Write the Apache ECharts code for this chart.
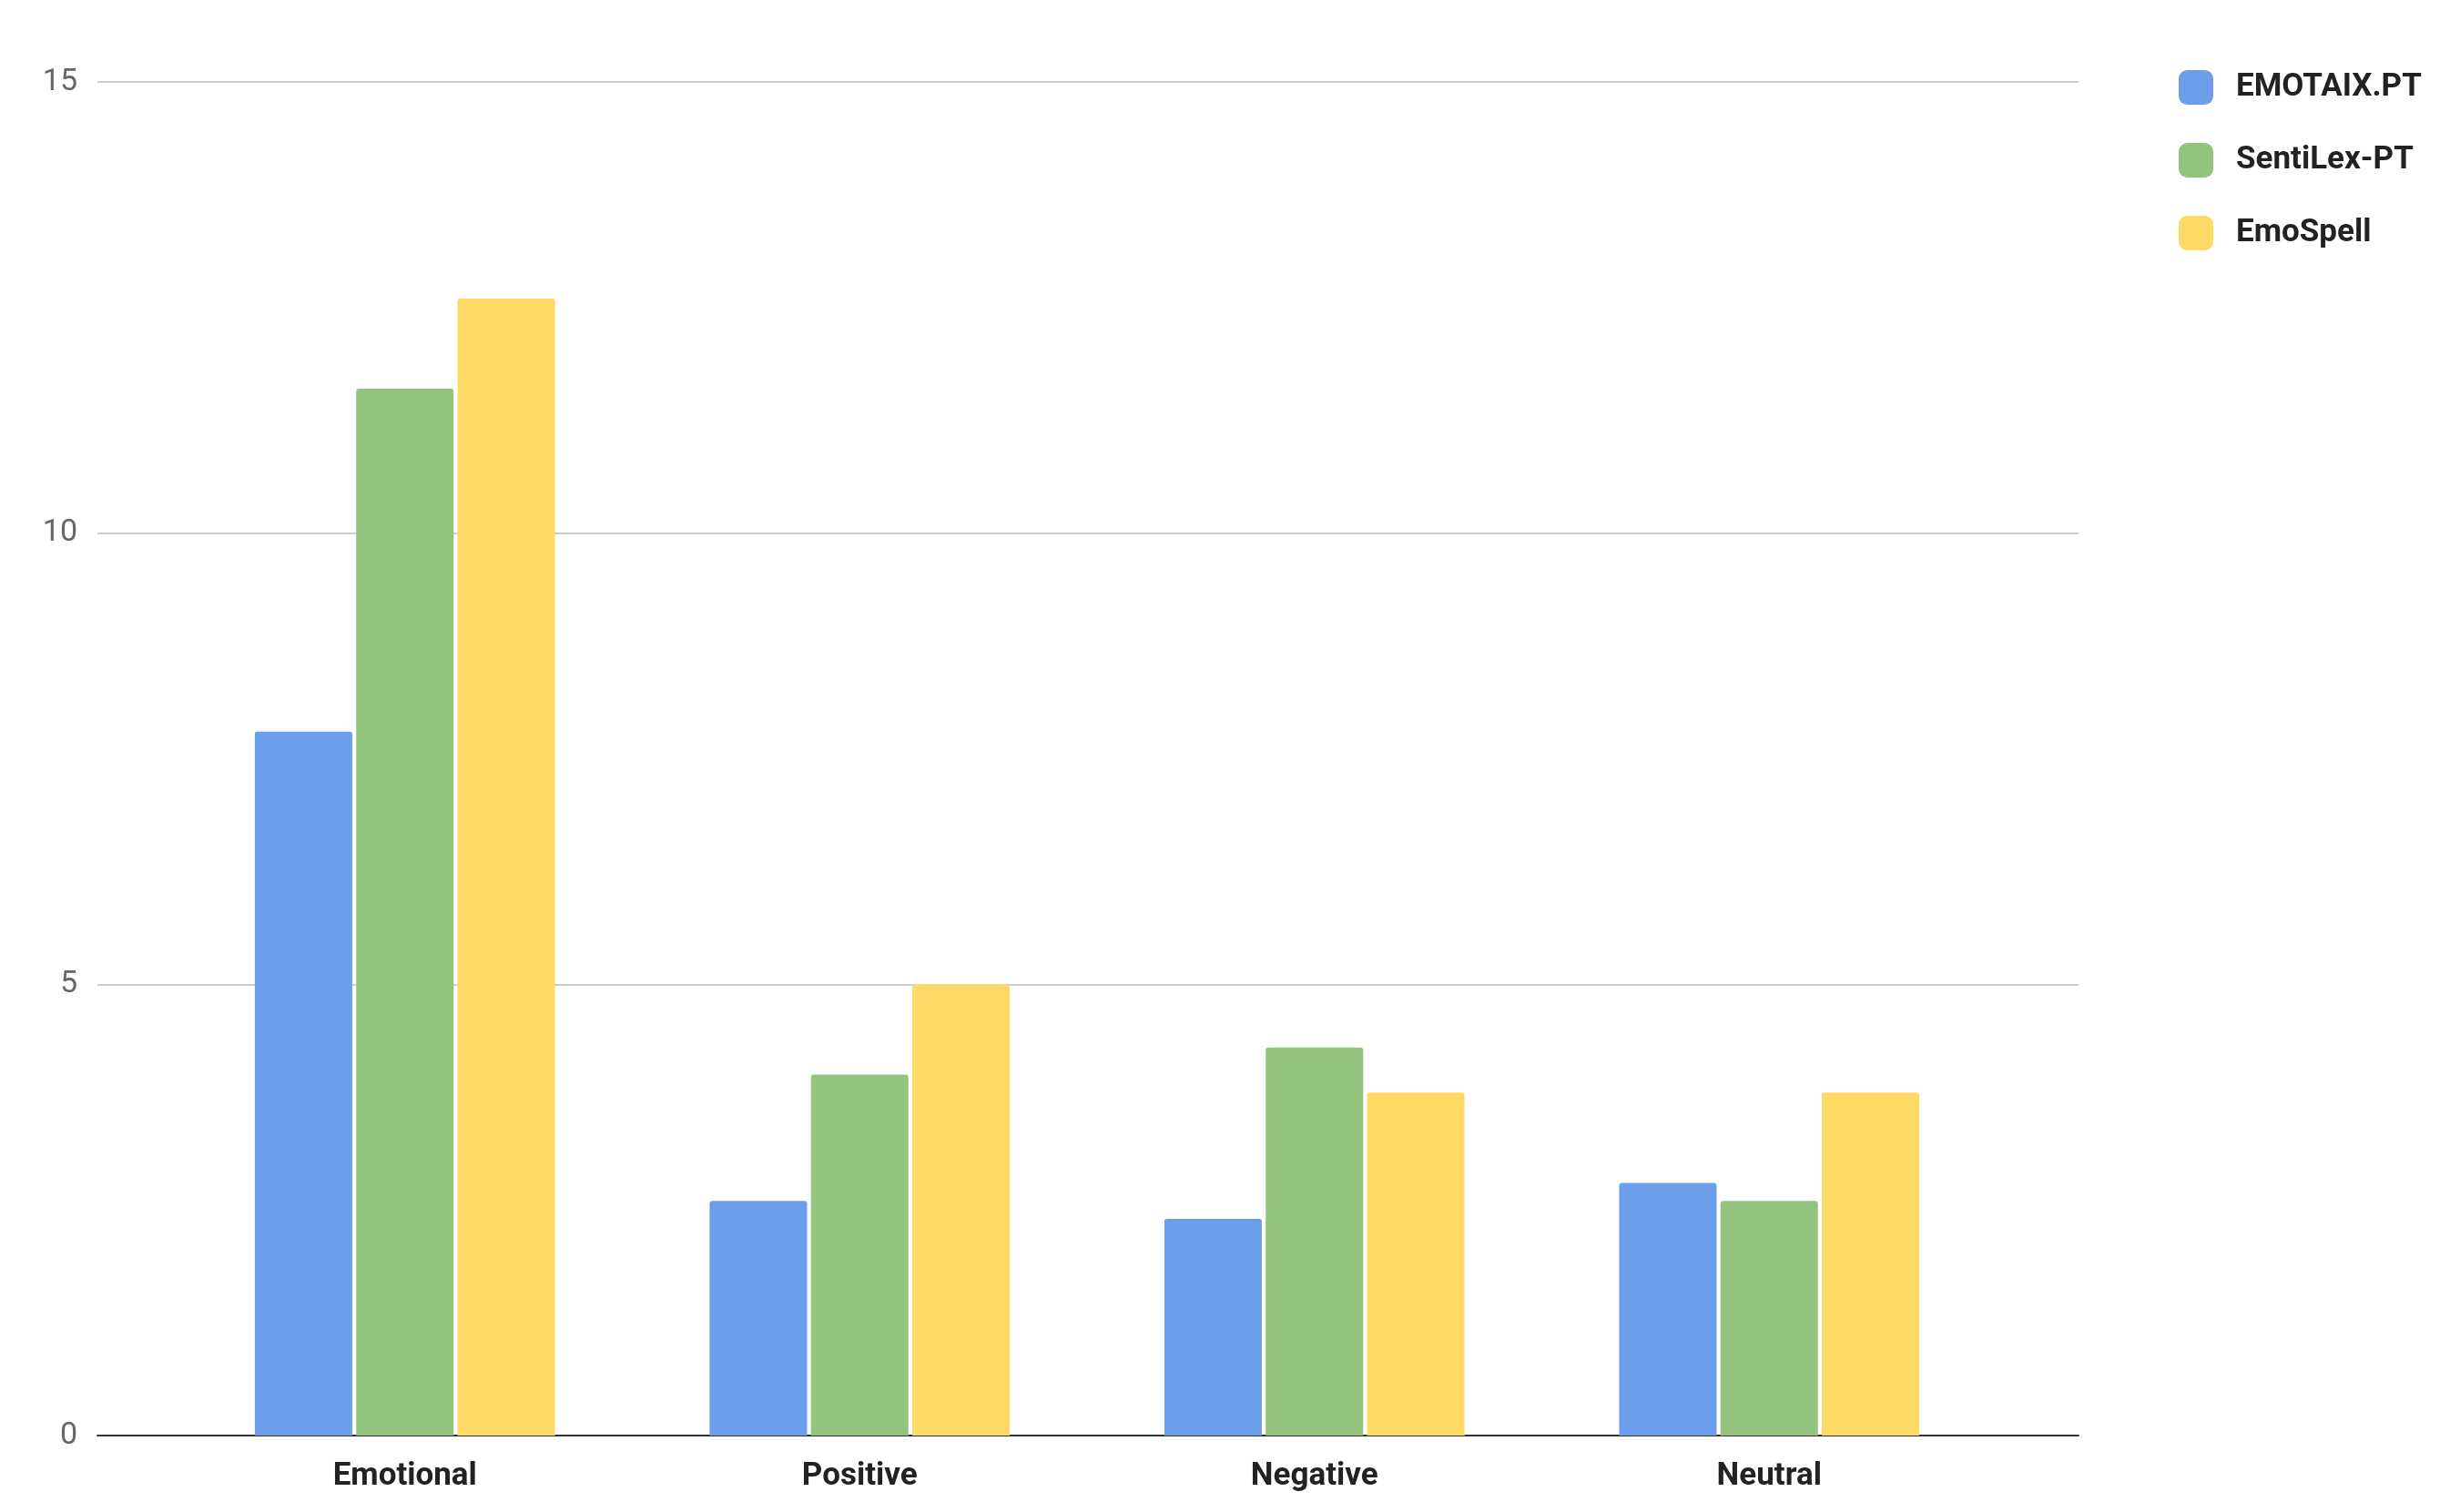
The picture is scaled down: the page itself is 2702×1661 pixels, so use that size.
<!DOCTYPE html>
<html><head><meta charset="utf-8">
<script src="https://cdn.jsdelivr.net/npm/echarts@6/dist/echarts.min.js"></script>
<style>html,body{margin:0;padding:0;background:#fff}#c{width:2702px;height:1661px}</style>
</head><body><div id="c"></div>
<script>
const categories = ['Emotional','Positive','Negative','Neutral'];
const seriesNames = ['EMOTAIX.PT','SentiLex-PT','EmoSpell'];
const emotaix = [7.8, 2.6, 2.4, 2.8];
const sentilex = [11.6, 4.0, 4.3, 2.6];
const emospell = [12.6, 5.0, 3.8, 3.8];
const colors = ['#6d9eeb','#93c47d','#ffd966'];
const chart = echarts.init(document.getElementById('c'));
const mk = (name, data, i) => ({name, type:'bar', data, xAxisIndex:1, yAxisIndex:1,
  barGap:'4%', barCategoryGap:'34%',
  itemStyle:{color:colors[i], borderRadius:[3,3,0,0]}});
chart.setOption({
  animation:false,
  textStyle:{fontFamily:'Roboto'},
  grid:[{left:107, right:2702-2283, top:90, bottom:1661-1577},
        {left:195, right:2702-2193, top:90, bottom:1661-1577}],
  legend:{orient:'vertical', left:2388, top:72, itemWidth:38, itemHeight:38, itemGap:42,
    icon:'roundRect', textStyle:{fontSize:35, fontWeight:'bold', color:'#222', padding:[0,0,0,20]}},
  xAxis:[{type:'category', gridIndex:0, data:[''], axisTick:{show:false}, axisLabel:{show:false},
    axisLine:{lineStyle:{color:'#333', width:2}}},
    {type:'category', gridIndex:1, data:categories, axisTick:{show:false}, axisLine:{show:false},
    axisLabel:{fontSize:35, fontWeight:'bold', color:'#222', margin:28}}],
  yAxis:[{type:'value', gridIndex:0, min:0, max:15, interval:5,
    axisLabel:{fontSize:34, color:'#666', margin:22},
    splitLine:{lineStyle:{color:'#ccc', width:2}}},
    {type:'value', gridIndex:1, min:0, max:15, interval:5, show:false}],
  series:[mk(seriesNames[0], emotaix,0), mk(seriesNames[1], sentilex,1), mk(seriesNames[2], emospell,2)]
});
</script></body></html>
